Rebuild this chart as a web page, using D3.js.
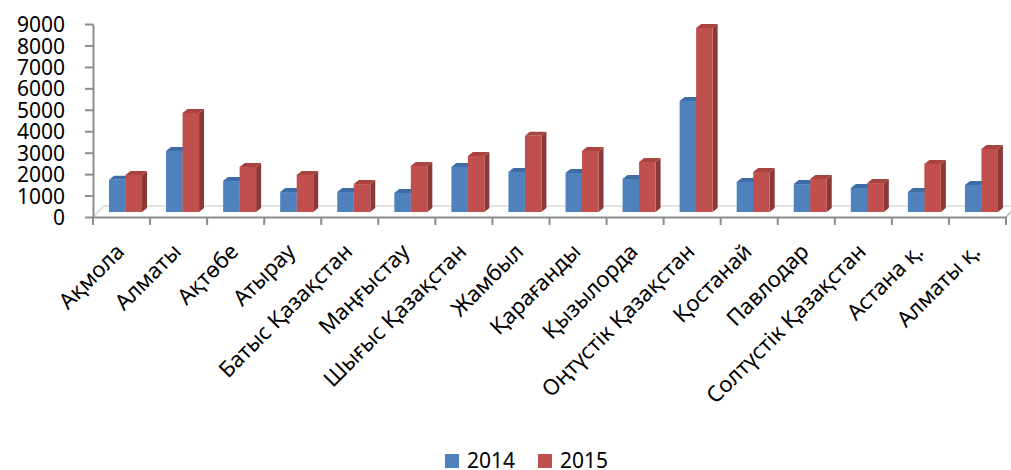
<!DOCTYPE html>
<meta charset="utf-8">
<head>
	<style>
		body { margin: 0; background: #fff; }
		text { font-family: "Noto Sans", "Open Sans", sans-serif; fill: #000; }
		.axis path, .axis line { stroke: #8c8c8c; stroke-width: 2px; }
	</style>
	<title>2014-2015</title>
</head>
<svg width="1011" height="470"></svg>
<script src="https://cdn.jsdelivr.net/npm/d3@7/dist/d3.min.js"></script>
<script>

var regions = ["Ақмола", "Алматы", "Ақтөбе", "Атырау", "Батыс Қазақстан", "Маңғыстау",
    "Шығыс Қазақстан", "Жамбыл", "Қарағанды", "Қызылорда", "Оңтүстік Қазақстан",
    "Қостанай", "Павлодар", "Солтүстік Қазақстан", "Астана қ.", "Алматы қ."];
var years = ["2014", "2015"];
var values2014 = [1500, 2850, 1450, 930, 930, 890, 2100, 1870, 1820, 1540, 5180, 1400, 1300, 1120, 930, 1260];
var values2015 = [1730, 4620, 2100, 1730, 1300, 2150, 2610, 3550, 2850, 2330, 8580, 1870, 1540, 1350, 2240, 2940];
var yTicks = [0, 1000, 2000, 3000, 4000, 5000, 6000, 7000, 8000, 9000];

var colors = { "2014": "#4f81bd", "2015": "#c0504d" };
var sides = { "2014": "#385d8a", "2015": "#8c3836" };
var tops = { "2014": "#3f6ca5", "2015": "#a8433f" };

var svg = d3.select("svg");
var plotLeft = 93, plotRight = 1006, plotTop = 24, plotBottom = 217;
var depthX = 5, depthY = 4, lift = 5;

var x0 = d3.scaleBand().domain(regions).range([plotLeft, plotRight]);
var x1 = d3.scaleBand().domain(years).range([16, 49]);
var y = d3.scaleLinear().domain([0, 9000]).range([plotBottom, plotTop]);

var rows = regions.map(function(r, i) {
    return { region: r, vals: [
        { year: "2014", v: values2014[i] },
        { year: "2015", v: values2015[i] }
    ]};
});

// floor (back edge + sides)
svg.append("path")
    .attr("d", "M" + plotLeft + "," + plotBottom + "L" + (plotLeft + 11) + "," + (plotBottom - 11) +
        "L" + (plotRight + 16) + "," + (plotBottom - 11))
    .attr("fill", "none")
    .attr("stroke", "#d9d9d9")
    .attr("stroke-width", 1.5);
svg.append("line")
    .attr("x1", plotRight).attr("y1", plotBottom)
    .attr("x2", plotRight + 11).attr("y2", plotBottom - 11)
    .attr("stroke", "#b0b0b0").attr("stroke-width", 1.5);

// bars
var g = svg.append("g").attr("transform", "translate(0," + (-lift) + ")");
var groups = g.selectAll(".grp")
    .data(rows)
    .enter().append("g")
    .attr("class", "grp")
    .attr("transform", function(d) { return "translate(" + x0(d.region) + ",0)"; });

groups.each(function(d) {
    var gg = d3.select(this);
    d.vals.forEach(function(p) {
        var bx = x1(p.year), bw = x1.bandwidth(), by = y(p.v), b0 = y(0);
        gg.append("path")
            .attr("d", "M" + (bx + bw) + "," + by + "L" + (bx + bw + depthX) + "," + (by - depthY) +
                "L" + (bx + bw + depthX) + "," + (b0 - depthY) + "L" + (bx + bw) + "," + b0 + "Z")
            .attr("fill", sides[p.year]);
        gg.append("path")
            .attr("d", "M" + bx + "," + by + "L" + (bx + depthX) + "," + (by - depthY) +
                "L" + (bx + bw + depthX) + "," + (by - depthY) + "L" + (bx + bw) + "," + by + "Z")
            .attr("fill", tops[p.year]);
        gg.append("rect")
            .attr("x", bx)
            .attr("y", by)
            .attr("width", bw)
            .attr("height", b0 - by)
            .attr("fill", colors[p.year]);
    });
});

// y axis
var ya = svg.append("g")
    .attr("class", "axis")
    .attr("transform", "translate(" + plotLeft + ",0)")
    .call(d3.axisLeft(y).tickValues(yTicks).tickSize(8).tickPadding(20).tickSizeOuter(0).tickFormat(d3.format("d")));
ya.selectAll("text").attr("font-size", "21px").attr("dy", "0.36em").style("font-family", "Noto Sans");

// x axis
var xa = svg.append("g")
    .attr("class", "axis")
    .attr("transform", "translate(0," + plotBottom + ")")
    .call(d3.axisBottom(x0).tickValues([]).tickSizeOuter(0));
xa.selectAll(".tk")
    .data(regions.concat(["end"]))
    .enter().append("line")
    .attr("class", "tk")
    .attr("x1", function(d, i) { return i < regions.length ? x0(d) : plotRight; })
    .attr("x2", function(d, i) { return i < regions.length ? x0(d) : plotRight; })
    .attr("y1", 0).attr("y2", 8);

svg.selectAll(".cat")
    .data(regions)
    .enter().append("text")
    .attr("class", "cat")
    .attr("text-anchor", "end")
    .attr("font-size", "22px")
    .attr("transform", function(d) {
        var cx = x0(d) + x0.bandwidth() / 2 + 4;
        return "translate(" + cx + ",253) rotate(-45)";
    })
    .text(function(d) { return d; });

// legend
var legend = svg.append("g").attr("transform", "translate(445,454)");
var items = legend.selectAll(".li")
    .data(years)
    .enter().append("g")
    .attr("class", "li")
    .attr("transform", function(d, i) { return "translate(" + (i * 93) + ",0)"; });
items.append("rect").attr("width", 14).attr("height", 14).attr("fill", function(d) { return colors[d]; });
items.append("text").attr("x", 22).attr("y", 14).attr("font-size", "21px").text(function(d) { return d; });

</script>
